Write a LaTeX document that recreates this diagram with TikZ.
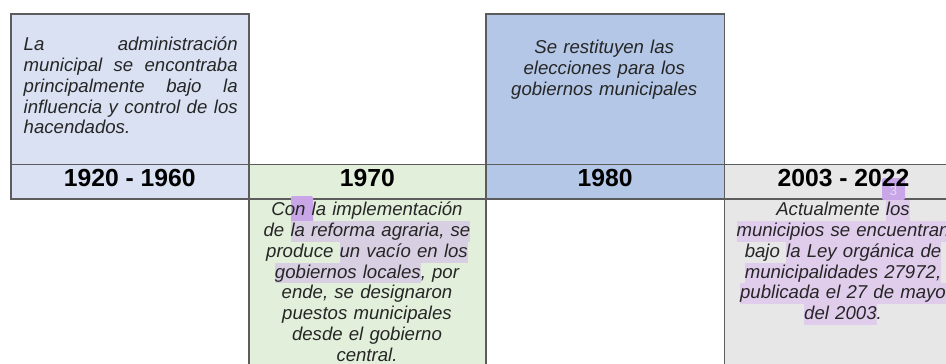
\documentclass[tikz,border=0pt]{standalone}
\usepackage{fontspec}
\setmainfont{Liberation Sans}
\definecolor{cA}{HTML}{D9E1F2}
\definecolor{cB}{HTML}{E2EFDA}
\definecolor{cC}{HTML}{B4C7E7}
\definecolor{cD}{HTML}{E7E7E7}
\definecolor{bd}{HTML}{5C5C5C}
\definecolor{txt}{HTML}{262626}
\definecolor{hlg}{HTML}{D8D0E2}
\definecolor{hlp}{HTML}{E0CDEC}
\definecolor{mk}{HTML}{C9A6E8}
\definecolor{mktxt}{HTML}{E8D8F7}
\newcommand{\hlbox}[2]{{\setlength{\fboxsep}{0pt}\colorbox{#1}{\rule[-5.4pt]{0pt}{20.8pt}#2}}}
\newcommand{\firstst}{\rule{0pt}{15.4pt}}
\tikzset{
  cell/.style={draw=bd, line width=1.6pt, rectangle, inner sep=0pt, anchor=north west},
  para/.style={font=\fontsize{18.6}{20.8}\selectfont\itshape, text=txt, inner sep=0pt, anchor=north},
  yeartext/.style={font=\fontsize{24.7}{28}\selectfont\bfseries, text=black, inner sep=0pt},
  marker/.style={fill=mk, rounded corners=2pt, inner sep=0pt}
}
\begin{document}
\begin{tikzpicture}[x=1pt, y=-1pt]
\useasboundingbox (0,0) rectangle (946,364);
\clip (0,0) rectangle (946,364);
\fill[white] (0,0) rectangle (946,364);
% top cells
\node[cell, fill=cA, minimum width=238pt, minimum height=150.5pt] (top1) at (10,13) {};
\node[cell, fill=cC, minimum width=238.5pt, minimum height=150.5pt] (top3) at (485,13) {};
% bottom cells
\node[cell, fill=cB, minimum width=237pt, minimum height=190pt] (bot2) at (248,198) {};
\node[cell, fill=cD, minimum width=238.5pt, minimum height=190pt] (bot4) at (723.5,198) {};
% year cells
\node[cell, fill=cA, minimum width=238pt, minimum height=34.7pt] (y1) at (10,163.5) {};
\node[cell, fill=cB, minimum width=237pt, minimum height=34.7pt] (y2) at (248,163.5) {};
\node[cell, fill=cC, minimum width=238.5pt, minimum height=34.7pt] (y3) at (485,163.5) {};
\node[cell, fill=cD, minimum width=238.5pt, minimum height=34.7pt] (y4) at (723.5,163.5) {};
% markers
\node[marker, minimum width=22pt, minimum height=27pt] (mk1) at (302,209.5) {};
\node[marker, minimum width=23pt, minimum height=22pt] (mk2) at (893.5,189) {};
\node[font=\fontsize{13}{13}\selectfont, text=mktxt, inner sep=0pt] (mk2t) at (893.5,191) {3};
% year labels
\node[yeartext] (t1) at ([yshift=3.4pt]y1.center) {1920 - 1960};
\node[yeartext] (t2) at ([yshift=3.4pt]y2.center) {1970};
\node[yeartext] (t3) at ([yshift=3.4pt]y3.center) {1980};
\node[yeartext] (t4) at ([yshift=3.4pt]y4.center) {2003 - 2022};
% paragraphs
\node[para, anchor=north west, text width=214pt, align=justify] (p1) at (23.5,35) {\firstst La administración\linebreak municipal se encontraba\linebreak principalmente bajo la\linebreak influencia y control de los\linebreak hacendados.};
\node[para, text width=230pt, align=center] (p3) at (604.25,38) {\firstst Se restituyen las\\ elecciones para los\\ gobiernos municipales};
\node[para, text width=230pt, align=center] (p2) at (367,200) {\firstst Con la implementación\\ de \hlbox{hlg}{la reforma agraria, se}\\ produce \hlbox{hlg}{un vacío en los}\\ \hlbox{hlg}{gobiernos locales}, por\\ ende, se designaron\\ puestos municipales\\ desde el gobierno\\ central.};
\node[para, text width=236pt, align=center] (p4) at (843,200) {\firstst Actualmente \hlbox{hlp}{los}\\ \hlbox{hlp}{municipios se encuentran}\\ bajo \hlbox{hlp}{la Ley orgánica de}\\ \hlbox{hlp}{municipalidades 27972,}\\ \hlbox{hlp}{publicada el 27 de mayo}\\ \hlbox{hlp}{del 2003}.};
\end{tikzpicture}
\end{document}
